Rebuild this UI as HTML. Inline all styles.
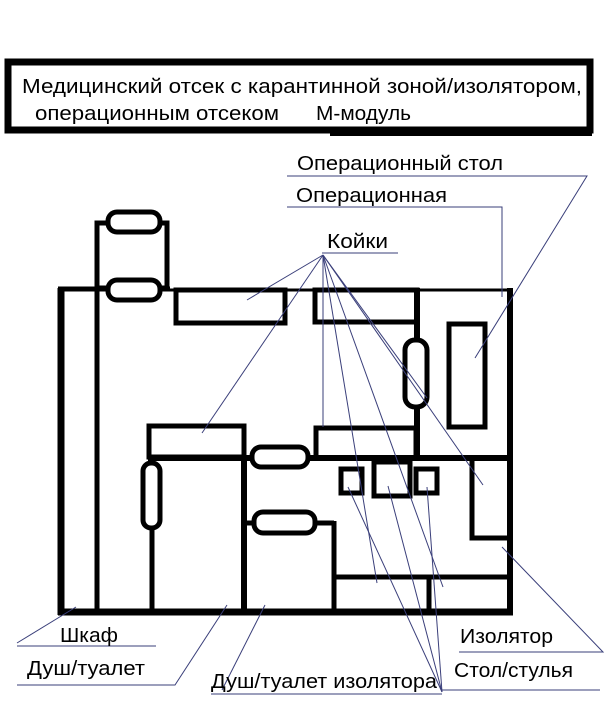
<!DOCTYPE html>
<html><head><meta charset="utf-8"><style>
html,body{margin:0;padding:0;background:#fff;}
svg{display:block;}
text{font-family:"Liberation Sans",sans-serif;fill:#000;}
</style></head><body>
<svg width="608" height="710" viewBox="0 0 608 710" xmlns="http://www.w3.org/2000/svg">
<!-- title box -->
<rect x="8" y="62" width="582" height="68" fill="none" stroke="#000" stroke-width="7"/>
<rect x="330" y="128" width="262" height="8" fill="#000"/>
<text x="22" y="93" font-size="20" textLength="560" lengthAdjust="spacingAndGlyphs">Медицинский отсек с карантинной зоной/изолятором,</text>
<text x="35" y="120" font-size="20" textLength="244" lengthAdjust="spacingAndGlyphs">операционным отсеком</text>
<text x="316" y="120" font-size="20" textLength="95" lengthAdjust="spacingAndGlyphs">М-модуль</text>

<g fill="none" stroke="#000">
<line x1="61" y1="288" x2="61" y2="615" stroke-width="7"/>
<line x1="58" y1="289" x2="170" y2="289" stroke-width="5"/>
<line x1="170" y1="290" x2="510" y2="290" stroke-width="3"/>
<line x1="510" y1="288" x2="510" y2="615" stroke-width="6"/>
<line x1="58" y1="612" x2="513" y2="612" stroke-width="7"/>
<line x1="97" y1="222" x2="97" y2="612" stroke-width="5"/>
<rect x="97" y="223" width="70" height="65" stroke-width="5"/>
<rect x="108" y="212" width="52" height="20" rx="9" stroke-width="5" fill="#fff"/>
<rect x="108" y="280" width="52" height="20" rx="9" stroke-width="5" fill="#fff"/>
<rect x="176" y="290" width="109" height="33" stroke-width="5"/>
<rect x="315" y="290" width="102" height="32" stroke-width="5"/>
<line x1="417" y1="288" x2="417" y2="460" stroke-width="6"/>
<rect x="405" y="340" width="22" height="67" rx="10" stroke-width="5" fill="#fff"/>
<rect x="449" y="324" width="36" height="103" stroke-width="5"/>
<rect x="149" y="426" width="95" height="31" stroke-width="5"/>
<rect x="316" y="428" width="100" height="30" stroke-width="5"/>
<line x1="148" y1="458" x2="512" y2="458" stroke-width="6"/>
<rect x="252" y="447" width="56" height="20" rx="9" stroke-width="5" fill="#fff"/>
<line x1="152" y1="458" x2="152" y2="612" stroke-width="5"/>
<rect x="143" y="463" width="17" height="65" rx="8" stroke-width="5" fill="#fff"/>
<line x1="244" y1="458" x2="244" y2="612" stroke-width="6"/>
<line x1="244" y1="523" x2="334" y2="523" stroke-width="5"/>
<rect x="254" y="512" width="61" height="21" rx="9" stroke-width="5" fill="#fff"/>
<line x1="334" y1="521" x2="334" y2="612" stroke-width="5"/>
<rect x="341" y="469" width="21" height="24" stroke-width="5"/>
<rect x="374" y="462" width="36" height="34" stroke-width="5"/>
<rect x="416" y="469" width="21" height="24" stroke-width="5"/>
<rect x="472" y="458" width="38" height="80" stroke-width="5"/>
<line x1="334" y1="577" x2="510" y2="577" stroke-width="5"/>
<line x1="429" y1="577" x2="429" y2="612" stroke-width="5"/>
</g>

<g stroke="#3a3f7a" stroke-width="1" fill="none">
<polyline points="287,176 587,176 475,358"/>
<polyline points="287,207 502,207 502,297"/>
<line x1="322" y1="253" x2="398" y2="253"/>
<line x1="323" y1="255" x2="247" y2="300"/>
<line x1="323" y1="255" x2="202" y2="433"/>
<line x1="323" y1="255" x2="323" y2="300"/>
<line x1="323" y1="255" x2="323" y2="427"/>
<line x1="323" y1="255" x2="427" y2="398"/>
<line x1="323" y1="255" x2="483" y2="485"/>
<line x1="323" y1="255" x2="377" y2="583"/>
<line x1="323" y1="255" x2="443" y2="587"/>
<line x1="442" y1="692" x2="348" y2="487"/>
<line x1="442" y1="692" x2="388" y2="486"/>
<line x1="442" y1="692" x2="427" y2="487"/>
<polyline points="17,646 156,646"/>
<line x1="17" y1="643" x2="76" y2="607"/>
<polyline points="17,685 175,685 227,605"/>
<polyline points="442,694 211,694"/>
<line x1="222" y1="690" x2="265" y2="605"/>
<polyline points="459,652 603,652 502,547"/>
<line x1="442" y1="690" x2="600" y2="690"/>
</g>

<g font-size="20">
<text x="297" y="170" textLength="206" lengthAdjust="spacingAndGlyphs">Операционный стол</text>
<text x="296" y="202" textLength="151" lengthAdjust="spacingAndGlyphs">Операционная</text>
<text x="327" y="248" textLength="61" lengthAdjust="spacingAndGlyphs">Койки</text>
<text x="60" y="642" textLength="58" lengthAdjust="spacingAndGlyphs">Шкаф</text>
<text x="27" y="675" textLength="118" lengthAdjust="spacingAndGlyphs">Душ/туалет</text>
<text x="211" y="688" textLength="226" lengthAdjust="spacingAndGlyphs">Душ/туалет изолятора</text>
<text x="460" y="643" textLength="93" lengthAdjust="spacingAndGlyphs">Изолятор</text>
<text x="454" y="677" textLength="119" lengthAdjust="spacingAndGlyphs">Стол/стулья</text>
</g>
</svg>
</body></html>
